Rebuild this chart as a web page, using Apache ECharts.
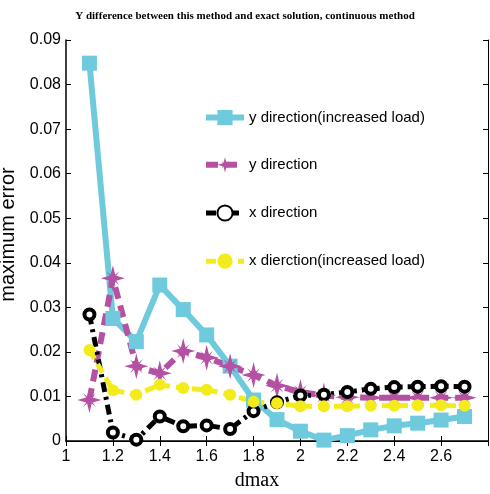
<!DOCTYPE html>
<html>
<head>
<meta charset="utf-8">
<script src="https://cdn.jsdelivr.net/npm/echarts@6/dist/echarts.min.js"></script>
<style>
  html, body { margin: 0; padding: 0; background: #fff; }
  #chart { width: 490px; height: 494px; }
</style>
</head>
<body>
<div id="chart"></div>
<script>
  // dmax values and error series
  const dmax = [1.1, 1.2, 1.3, 1.4, 1.5, 1.6, 1.7, 1.8, 1.9, 2.0, 2.1, 2.2, 2.3, 2.4, 2.5, 2.6, 2.7]
  const yIncreased = [0.0848, 0.0275, 0.0223, 0.035, 0.0295, 0.0238, 0.0168, 0.0092, 0.0048, 0.0022, 0.0002, 0.0012, 0.0025, 0.0034, 0.004, 0.0047, 0.0055]
  const yDir = [0.0092, 0.0365, 0.0168, 0.0152, 0.0202, 0.0187, 0.0168, 0.0148, 0.0124, 0.011, 0.0102, 0.0098, 0.0097, 0.0097, 0.0097, 0.0097, 0.0097]
  const xDir = [0.0284, 0.0019, 0.0003, 0.0055, 0.0033, 0.0035, 0.0027, 0.0067, 0.0087, 0.0102, 0.0104, 0.011, 0.0117, 0.0121, 0.0122, 0.0123, 0.0122]
  const xIncreased = [0.0204, 0.0114, 0.0104, 0.0126, 0.0119, 0.0115, 0.0104, 0.0088, 0.0085, 0.0078, 0.0078, 0.0078, 0.0079, 0.0079, 0.008, 0.008, 0.0079]
  const names = ['y direction(increased load)', 'y direction', 'x direction', 'x dierction(increased load)']

  const pairs = vals => dmax.map((d, i) => [d, vals[i]])
  const starPath = 'path://M0,-13 L2.5,-3.5 L7,-7 L3.5,-2.5 L13,0 L3.5,2.5 L7,7 L2.5,3.5 L0,13 L-2.5,3.5 L-7,7 L-3.5,2.5 L-13,0 L-3.5,-2.5 L-7,-7 L-2.5,-3.5 Z'

  const chart = echarts.init(document.getElementById('chart'))
  const tickFont = { color: '#000', fontSize: 16, fontFamily: 'Liberation Sans Narrow, Liberation Sans, Arial' }

  chart.setOption({
    animation: false,
    title: {
      text: 'Y difference between this method and exact solution, continuous method',
      left: 'center',
      top: 6,
      textStyle: { fontFamily: 'Liberation Serif', fontSize: 11, fontWeight: 'bold', color: '#000' }
    },
    legend: {
      orient: 'vertical',
      left: 198,
      top: 105,
      itemGap: 32,
      itemWidth: 38,
      itemHeight: 19,
      data: [
        { name: names[0], lineStyle: { width: 6 } },
        { name: names[1], lineStyle: { width: 6 } },
        { name: names[2], lineStyle: { width: 5 } },
        { name: names[3], lineStyle: { width: 5 } }
      ],
      textStyle: { fontFamily: 'Liberation Sans Narrow, Liberation Sans, Arial', fontSize: 15, color: '#000' }
    },
    grid: { left: 66, right: 2, top: 40, bottom: 53, outerBoundsMode: 'none' },
    xAxis: [{
      type: 'value',
      min: 1, max: 2.8, interval: 0.2,
      name: 'dmax',
      nameLocation: 'middle',
      nameGap: 30,
      nameTextStyle: { fontFamily: 'Liberation Serif', fontSize: 20, color: '#000', padding: [0, 40, 0, 0] },
      axisLine: { lineStyle: { color: '#000', width: 1.5 } },
      axisTick: { inside: true, length: 5, lineStyle: { color: '#000' } },
      axisLabel: Object.assign({ margin: 8, formatter: v => (Math.abs(v - 2.8) < 1e-6 ? '' : String(+v.toFixed(1))) }, tickFont),
      splitLine: { show: false }
    }, {
      type: 'value', position: 'top',
      min: 1, max: 2.8, interval: 0.2,
      axisLine: { lineStyle: { color: '#000', width: 1 } },
      axisTick: { inside: true, length: 5, lineStyle: { color: '#000' } },
      axisLabel: { show: false },
      splitLine: { show: false }
    }],
    yAxis: [{
      type: 'value',
      min: 0, max: 0.09, interval: 0.01,
      name: 'maximum error',
      nameLocation: 'middle',
      nameGap: 38,
      nameTextStyle: { fontFamily: 'Liberation Sans', fontSize: 20, color: '#000', padding: [0, 0, 0, 12] },
      axisLine: { lineStyle: { color: '#000', width: 1.5 } },
      axisTick: { inside: true, length: 5, lineStyle: { color: '#000' } },
      axisLabel: Object.assign({ margin: 5, formatter: v => (v === 0 ? '0' : v.toFixed(2)) }, tickFont),
      splitLine: { show: false }
    }, {
      type: 'value', position: 'right',
      min: 0, max: 0.09, interval: 0.01,
      axisLine: { lineStyle: { color: '#000', width: 1 } },
      axisTick: { inside: true, length: 5, lineStyle: { color: '#000' } },
      axisLabel: { show: false },
      splitLine: { show: false }
    }],
    series: [{
      name: names[0],
      type: 'line',
      data: pairs(yIncreased),
      symbol: 'rect',
      symbolSize: 15,
      lineStyle: { color: '#6ecadc', width: 6 },
      itemStyle: { color: '#6ecadc' }
    }, {
      name: names[1],
      type: 'line',
      data: pairs(yDir),
      symbol: starPath,
      symbolSize: [24, 26],
      lineStyle: { color: '#b551a2', width: 6, type: [12, 7] },
      itemStyle: { color: '#b551a2' }
    }, {
      name: names[2],
      type: 'line',
      data: pairs(xDir),
      symbol: 'circle',
      symbolSize: 10,
      lineStyle: { color: '#000', width: 5, type: [10, 5, 3, 5] },
      itemStyle: { color: '#fff', borderColor: '#000', borderWidth: 4 }
    }, {
      name: names[3],
      type: 'line',
      data: pairs(xIncreased),
      symbol: 'circle',
      symbolSize: 12,
      lineStyle: { color: '#f3ec1a', width: 5, type: [10, 6] },
      itemStyle: { color: '#f3ec1a' }
    }]
  })
</script>
</body>
</html>
